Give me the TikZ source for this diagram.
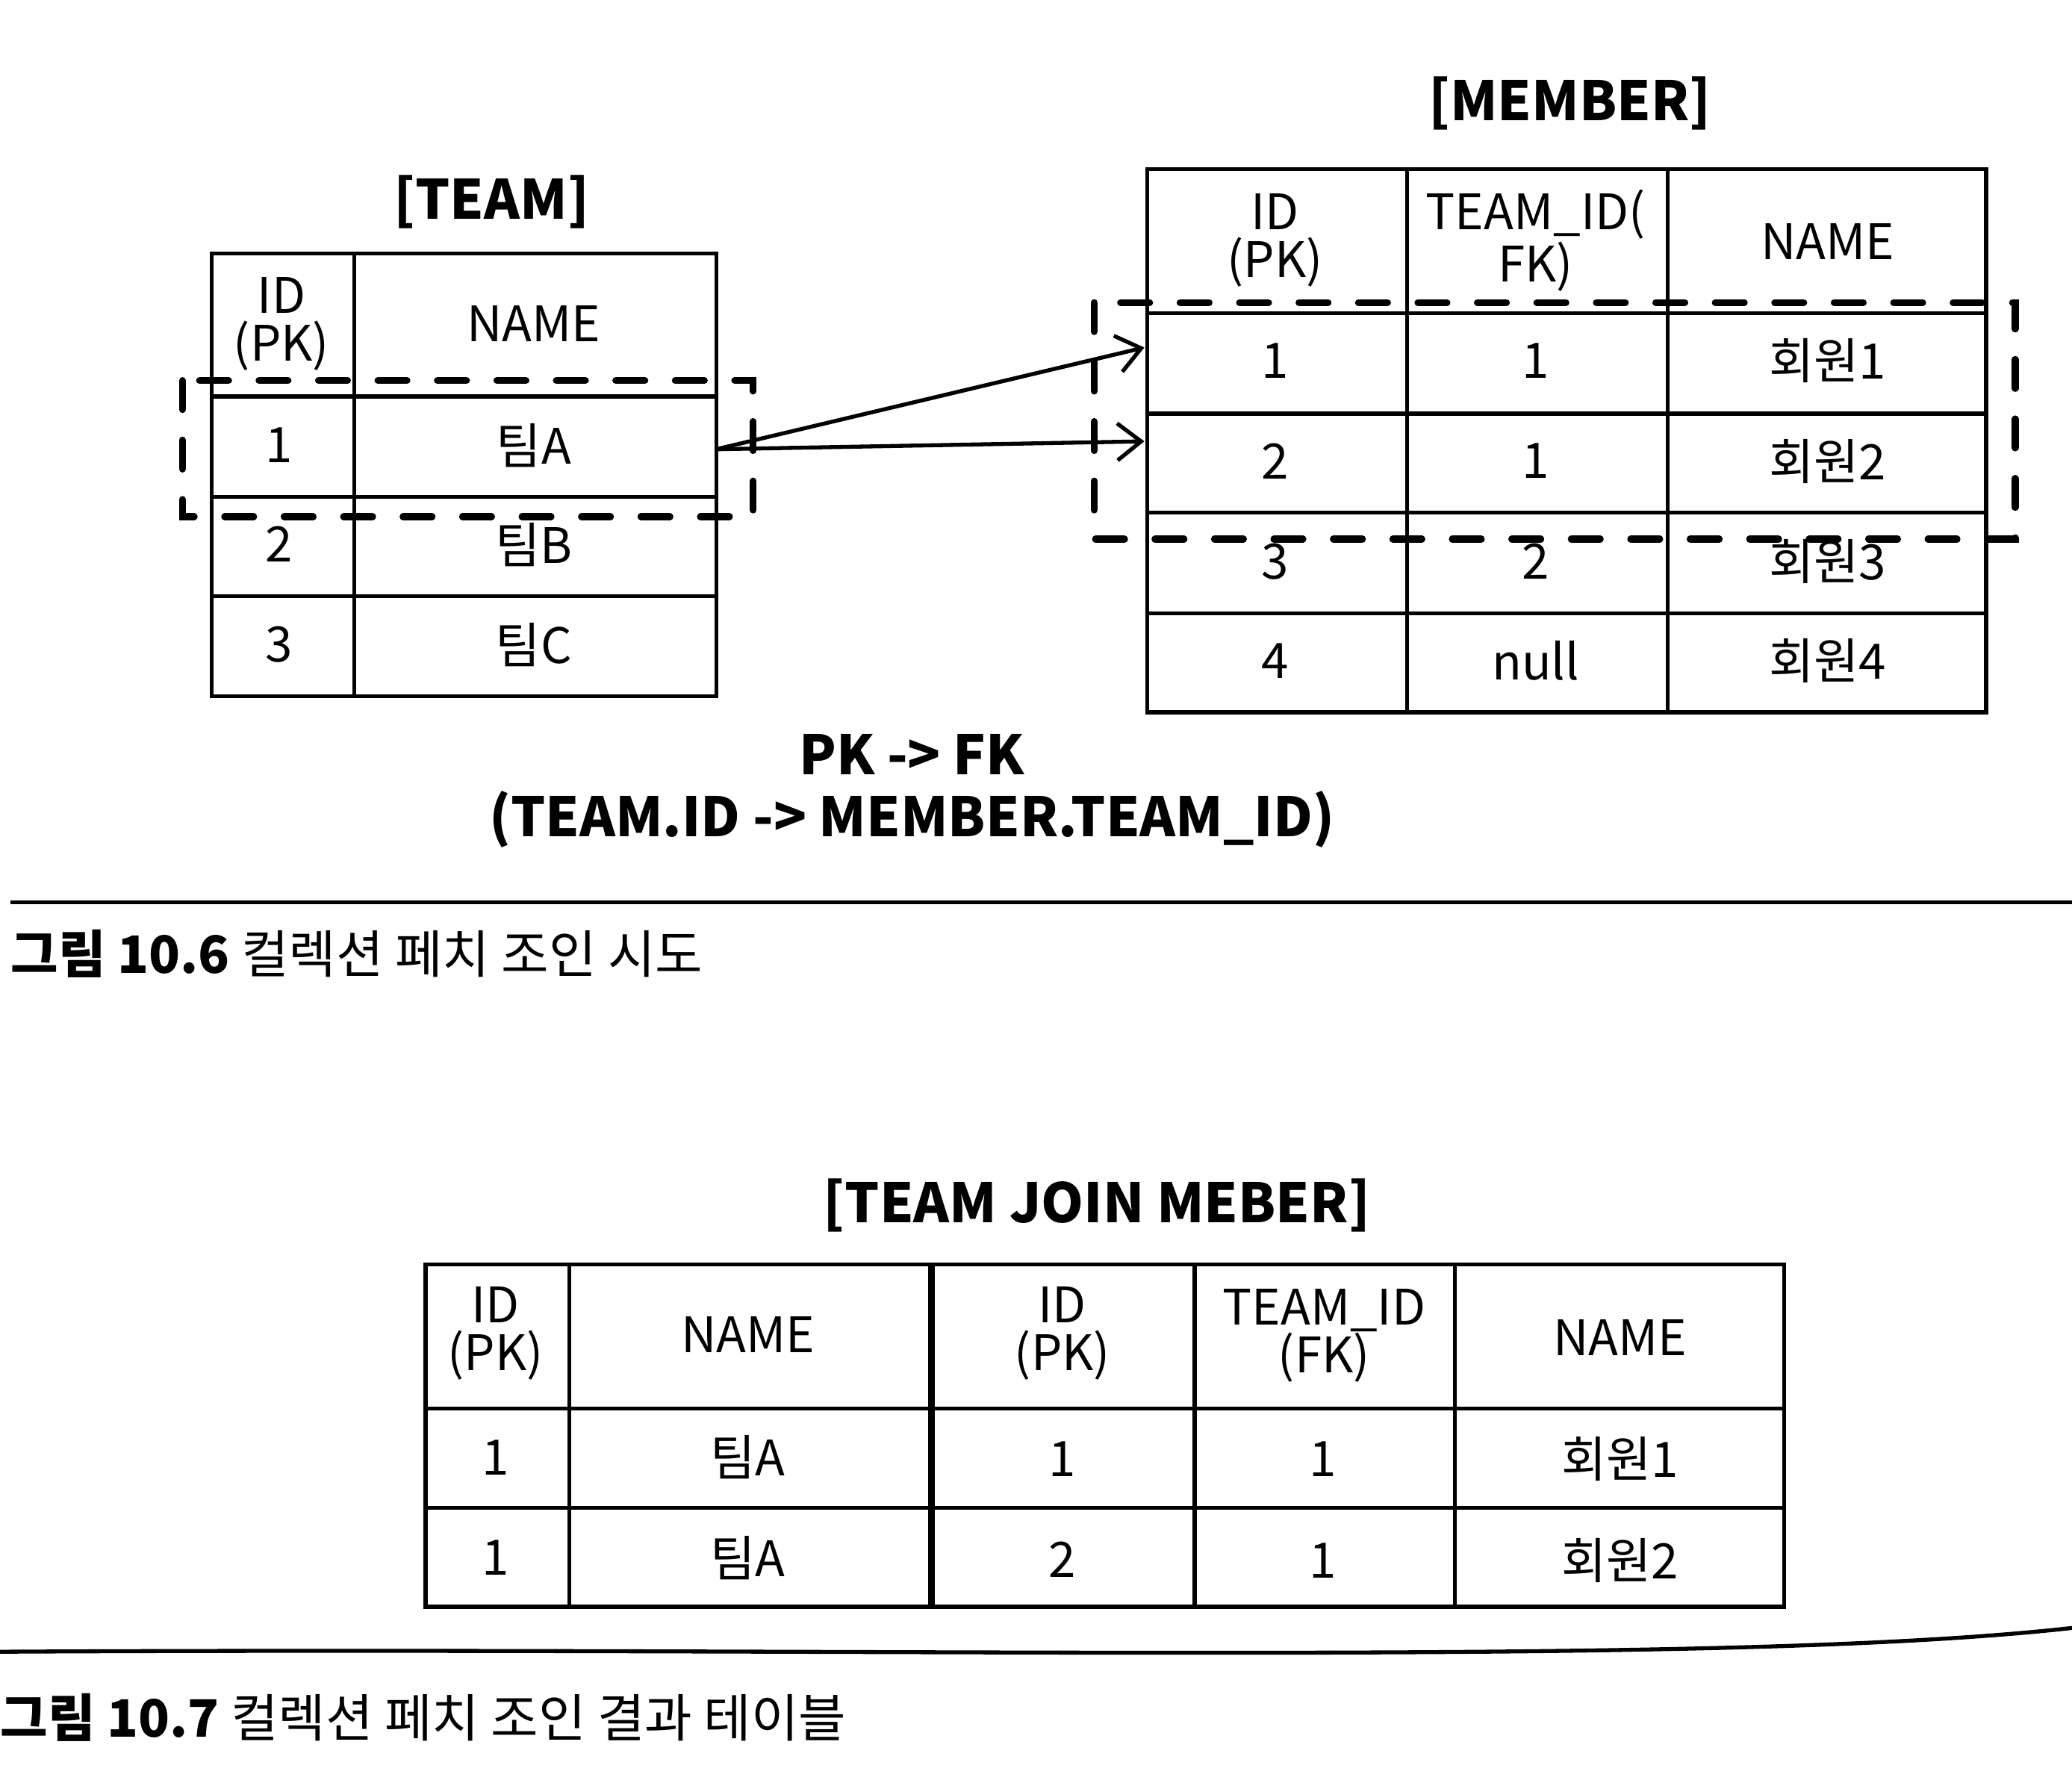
\documentclass[tikz,border=0pt]{standalone}
\usepackage{fontspec}
\setmainfont{Noto Sans CJK KR}
\usepackage{tikz}
\usetikzlibrary{
    arrows.meta,
    calc,
    positioning
}
\newcommand{\cellfont}{\fontsize{18.5}{18}\selectfont}
\newcommand{\labfont}{\bfseries\fontsize{20.5}{24}\selectfont}
\newcommand{\figfont}{\fontsize{19.5}{22}\selectfont}
\tikzset{
    cell/.style={font=\cellfont, inner sep=0pt, align=center},
    lab/.style={font=\labfont, inner sep=0pt, align=center},
    fig/.style={font=\figfont, inner sep=0pt, anchor=west},
    tbl/.style={line width=1.5pt},
    selbox/.style={line width=2.6pt, dash pattern=on 11pt off 11.5pt, line cap=round},
    rel/.style={line width=1.5pt, -{Straight Barb[length=9pt,width=14pt,line width=1.5pt]}}
}

\begin{document}
\begin{tikzpicture}[x=0.5pt, y=-0.5pt]
                                \useasboundingbox (0, 0) rectangle (1568, 1347);
                                % TEAM table
                                \node[lab] (teamlab) at (372, 153) {[TEAM]};
                                \draw[tbl] (160, 192) rectangle (542, 527);
                                \draw[tbl] (268, 192) -- (268, 527);
                                \draw[tbl] (160, 300) -- (542, 300);
                                \draw[tbl] (160, 376) -- (542, 376);
                                \draw[tbl] (160, 451) -- (542, 451);
                                \node[cell] (tid) at (213, 245) {ID\\(PK)};
                                \node[cell] (tname) at (404, 245) {NAME};
                                \node[cell] (t1) at (211, 337) {1};
                                \node[cell] (tA) at (404, 337) {팀A};
                                \node[cell] (t2) at (211, 412) {2};
                                \node[cell] (tB) at (404, 412) {팀B};
                                \node[cell] (t3) at (211, 488) {3};
                                \node[cell] (tC) at (404, 488) {팀C};
                                \draw[selbox] (138, 288) rectangle (570, 391);
                                % MEMBER table
                                \node[lab] (memlab) at (1188, 78) {[MEMBER]};
                                \draw[tbl] (868, 128) rectangle (1503, 539);
                                \draw[tbl] (1065, 128) -- (1065, 539);
                                \draw[tbl] (1262, 128) -- (1262, 539);
                                \draw[tbl] (868, 237) -- (1503, 237);
                                \draw[tbl] (868, 313) -- (1503, 313);
                                \draw[tbl] (868, 388) -- (1503, 388);
                                \draw[tbl] (868, 464) -- (1503, 464);
                                \node[cell] (mid) at (965, 182) {ID\\(PK)};
                                \node[cell] (mtid) at (1162, 182) {TEAM\_ID(\\FK)};
                                \node[cell] (mname) at (1383, 183) {NAME};
                                \node[cell] (m1) at (965, 273) {1};
                                \node[cell] (m1t) at (1162, 273) {1};
                                \node[cell] (m1n) at (1383, 273) {회원1};
                                \node[cell] (m2) at (965, 349) {2};
                                \node[cell] (m2t) at (1162, 349) {1};
                                \node[cell] (m2n) at (1383, 349) {회원2};
                                \node[cell] (m3) at (965, 425) {3};
                                \node[cell] (m3t) at (1162, 425) {2};
                                \node[cell] (m3n) at (1383, 425) {회원3};
                                \node[cell] (m4) at (965, 500) {4};
                                \node[cell] (m4t) at (1162, 500) {null};
                                \node[cell] (m4n) at (1383, 500) {회원4};
                                \draw[selbox] (828, 229) rectangle (1525, 408);
                                % PK -> FK
                                \coordinate (tout) at (542, 340);
                                \coordinate (min1) at (866, 263);
                                \coordinate (min2) at (866, 334);
                                \draw[rel] (tout) -- (min1);
                                \draw[rel] (tout) -- (min2);
                                \node[lab] (pkfk) at (690, 571) {PK -> FK};
                                \node[lab] (pkfk2) at (690, 620) {(TEAM.ID -> MEMBER.TEAM\_ID)};
                                \draw[line width=1.5pt] (8, 683) -- (1568, 683);
                                \node[fig] (fig6) at (8, 722) {\textbf{그림 10.6} 컬렉션 페치 조인 시도};
                                % join result
                                \node[lab] (joinlab) at (830, 912) {[TEAM JOIN MEBER]};
                                \draw[tbl] (322, 957) rectangle (1350, 1216);
                                \draw[tbl] (431, 957) -- (431, 1216);
                                \draw[line width=2.6pt] (705, 957) -- (705, 1216);
                                \draw[tbl] (904, 957) -- (904, 1216);
                                \draw[tbl] (1101, 957) -- (1101, 1216);
                                \draw[tbl] (322, 1066) -- (1350, 1066);
                                \draw[tbl] (322, 1141) -- (1350, 1141);
                                \node[cell] (jid) at (375, 1009) {ID\\(PK)};
                                \node[cell] (jname) at (566, 1010) {NAME};
                                \node[cell] (jmid) at (804, 1009) {ID\\(PK)};
                                \node[cell] (jtid) at (1002, 1011) {TEAM\_ID\\(FK)};
                                \node[cell] (jmname) at (1226, 1012) {NAME};
                                \node[cell] (j1) at (375, 1103) {1};
                                \node[cell] (j1n) at (566, 1103) {팀A};
                                \node[cell] (j1m) at (804, 1104) {1};
                                \node[cell] (j1t) at (1001, 1104) {1};
                                \node[cell] (j1mn) at (1226, 1104) {회원1};
                                \node[cell] (j2) at (375, 1179) {1};
                                \node[cell] (j2n) at (566, 1179) {팀A};
                                \node[cell] (j2m) at (804, 1180) {2};
                                \node[cell] (j2t) at (1001, 1181) {1};
                                \node[cell] (j2mn) at (1226, 1181) {회원2};
                                \draw[line width=1.5pt] (0, 1250) .. controls (700, 1246) and (1300, 1262) .. (1568, 1232);
                                \node[fig] (fig7) at (0, 1300) {\textbf{그림 10.7} 컬렉션 페치 조인 결과 테이블};
                            \end{tikzpicture}
\end{document}
